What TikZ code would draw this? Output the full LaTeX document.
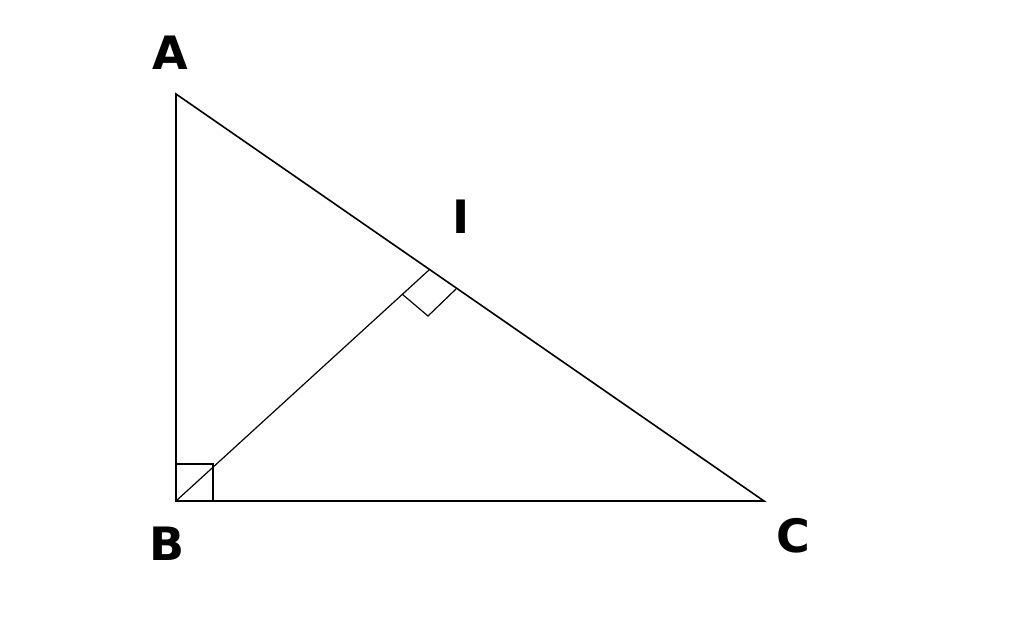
\documentclass[tikz,border=0pt]{standalone}
\usepackage{fontspec}
\setmainfont{DejaVu Sans}
\usepackage{tikz}
\usetikzlibrary{calc}

\begin{document}
\begin{tikzpicture}[x=1pt,y=-1pt,
                    every path/.style={line width=1.6pt},
                    every node/.style={font=\bfseries\fontsize{46}{46}\selectfont,inner sep=0pt}]
  \useasboundingbox (0,0) rectangle (1024,624);
  \coordinate (A) at (176,94);
  \coordinate (B) at (176,501);
  \coordinate (C) at (764,501);
  \coordinate (I) at (429,270);
  \node            (la) at (170,53)  { A };
  \node            (lb) at (167,544) { B };
  \node            (lc) at (793,536) { C };
  \node            (li) at (461,217) { I };
  \draw (A) -- (B) -- (C) -- cycle;
  \draw[line width=1.2pt] (B) -- (I);
  \draw ($(B)+(0,-37)$) -- ++(37,0) -- ++(0,37);
  \draw[line width=1.2pt] ($(I)+(-27,24)$) -- ($(I)+(-1,46)$) -- ($(I)+(27,19)$);
\end{tikzpicture}
\end{document}
